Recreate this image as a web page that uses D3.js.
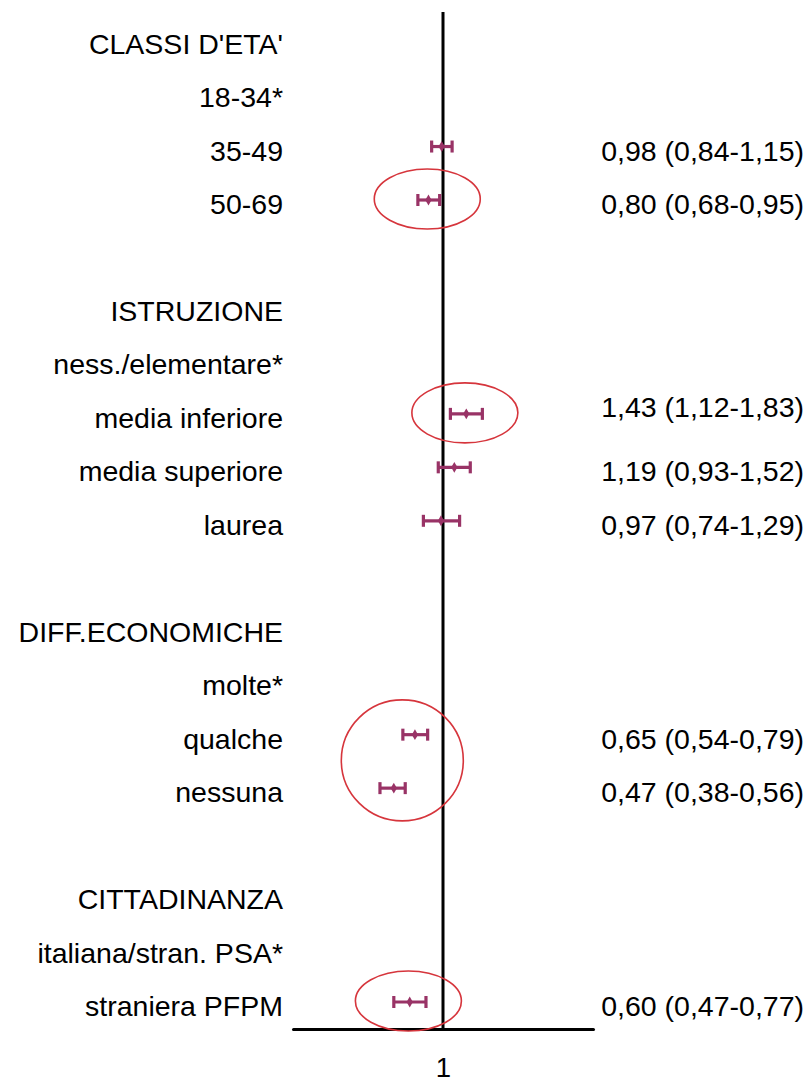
<!DOCTYPE html>
<html>
<head>
<meta charset="utf-8">
<script src="https://cdn.jsdelivr.net/npm/d3@7"></script>
<style>
  html, body { margin: 0; padding: 0; background: #ffffff; }
  svg text { font-family: Arial, "Liberation Sans", sans-serif; fill: #000; }
</style>
</head>
<body>
<svg id="chart" width="811" height="1082"></svg>
<script>
// ---- data ----
const rowLabels = [
  "CLASSI D'ETA'", "18-34*", "35-49", "50-69", "",
  "ISTRUZIONE", "ness./elementare*", "media inferiore", "media superiore", "laurea", "",
  "DIFF.ECONOMICHE", "molte*", "qualche", "nessuna", "",
  "CITTADINANZA", "italiana/stran. PSA*", "straniera PFPM"
];
const orValues = [null, null, 0.98, 0.80, null, null, null, 1.43, 1.19, 0.97, null, null, null, 0.65, 0.47, null, null, null, 0.60];
const ciLow    = [null, null, 0.84, 0.68, null, null, null, 1.12, 0.93, 0.74, null, null, null, 0.54, 0.38, null, null, null, 0.47];
const ciHigh   = [null, null, 1.15, 0.95, null, null, null, 1.83, 1.52, 1.29, null, null, null, 0.79, 0.56, null, null, null, 0.77];
const resultLabels = ["", "", "0,98 (0,84-1,15)", "0,80 (0,68-0,95)", "", "", "", "1,43 (1,12-1,83)", "1,19 (0,93-1,52)", "0,97 (0,74-1,29)", "", "", "", "0,65 (0,54-0,79)", "0,47 (0,38-0,56)", "", "", "", "0,60 (0,47-0,77)"];
const highlightGroups = [[3], [7], [13, 14], [18]];
const xDomain = [0.1, 10];
const xTicks = [1];

// ---- drawing ----
const svg = d3.select("#chart");
const barColor = "#993366";
const circleColor = "#d6353c";
const fontSize = 28.5;

const x = d3.scaleLog().domain(xDomain).range([293, 593]);
const y = d3.scalePoint().domain(d3.range(rowLabels.length)).range([39.6, 1002]);
const axisY = 1029;

// reference vertical line at OR = 1
svg.append("line")
  .attr("x1", x(1)).attr("x2", x(1))
  .attr("y1", 12).attr("y2", axisY)
  .attr("stroke", "#000").attr("stroke-width", 3);

// x axis
const axis = d3.axisBottom(x).tickValues(xTicks).tickSize(0).tickSizeOuter(0).tickPadding(28)
  .tickFormat(d3.format("d"));
const gAxis = svg.append("g").attr("transform", `translate(0,${axisY})`).call(axis);
gAxis.select(".domain").attr("stroke", "#000").attr("stroke-width", 3).attr("stroke-linecap", "round");
gAxis.selectAll("text").attr("font-size", fontSize - 1).attr("font-family", "Arial, 'Liberation Sans', sans-serif").attr("fill", "#000");

// row labels
svg.append("g").selectAll("text")
  .data(rowLabels.map((t, i) => ({ t, i })).filter(d => d.t))
  .join("text")
  .attr("x", 283)
  .attr("y", d => y(d.i) + 14)
  .attr("text-anchor", "end")
  .attr("font-size", fontSize)
  .text(d => d.t);

// result labels
const resultRaise = { 7: -11 };
svg.append("g").selectAll("text")
  .data(resultLabels.map((t, i) => ({ t, i })).filter(d => d.t))
  .join("text")
  .attr("x", 804)
  .attr("y", d => y(d.i) + 14 + (resultRaise[d.i] || 0))
  .attr("text-anchor", "end")
  .attr("font-size", fontSize)
  .text(d => d.t);

// error bars
const est = orValues.map((v, i) => ({ v, lo: ciLow[i], hi: ciHigh[i], i })).filter(d => d.v != null);
const gBars = svg.append("g").attr("stroke", barColor).attr("fill", barColor);
gBars.selectAll("line.ci").data(est).join("line").attr("class", "ci")
  .attr("x1", d => x(d.lo)).attr("x2", d => x(d.hi))
  .attr("y1", d => y(d.i)).attr("y2", d => y(d.i))
  .attr("stroke-width", 3.2);
gBars.selectAll("line.capL").data(est).join("line").attr("class", "capL")
  .attr("x1", d => x(d.lo)).attr("x2", d => x(d.lo))
  .attr("y1", d => y(d.i) - 6).attr("y2", d => y(d.i) + 6)
  .attr("stroke-width", 3.2);
gBars.selectAll("line.capR").data(est).join("line").attr("class", "capR")
  .attr("x1", d => x(d.hi)).attr("x2", d => x(d.hi))
  .attr("y1", d => y(d.i) - 6).attr("y2", d => y(d.i) + 6)
  .attr("stroke-width", 3.2);
gBars.selectAll("path.pt").data(est).join("path").attr("class", "pt")
  .attr("d", d3.symbol(d3.symbolDiamond, 34))
  .attr("stroke", "none")
  .attr("transform", d => `translate(${x(d.v)},${y(d.i)})`);

// highlight ellipses
svg.append("g").selectAll("ellipse")
  .data(highlightGroups)
  .join("ellipse")
  .attr("cx", g => (x(d3.min(g, i => ciLow[i])) + x(d3.max(g, i => ciHigh[i]))) / 2 - 1.5)
  .attr("cy", g => d3.mean(g, i => y(i)) - 1)
  .attr("rx", g => g.length > 1 ? 61 : 53)
  .attr("ry", g => 30 + (g.length - 1) * 30.5)
  .attr("fill", "none")
  .attr("stroke", circleColor)
  .attr("stroke-width", 1.6);
</script>
</body>
</html>
